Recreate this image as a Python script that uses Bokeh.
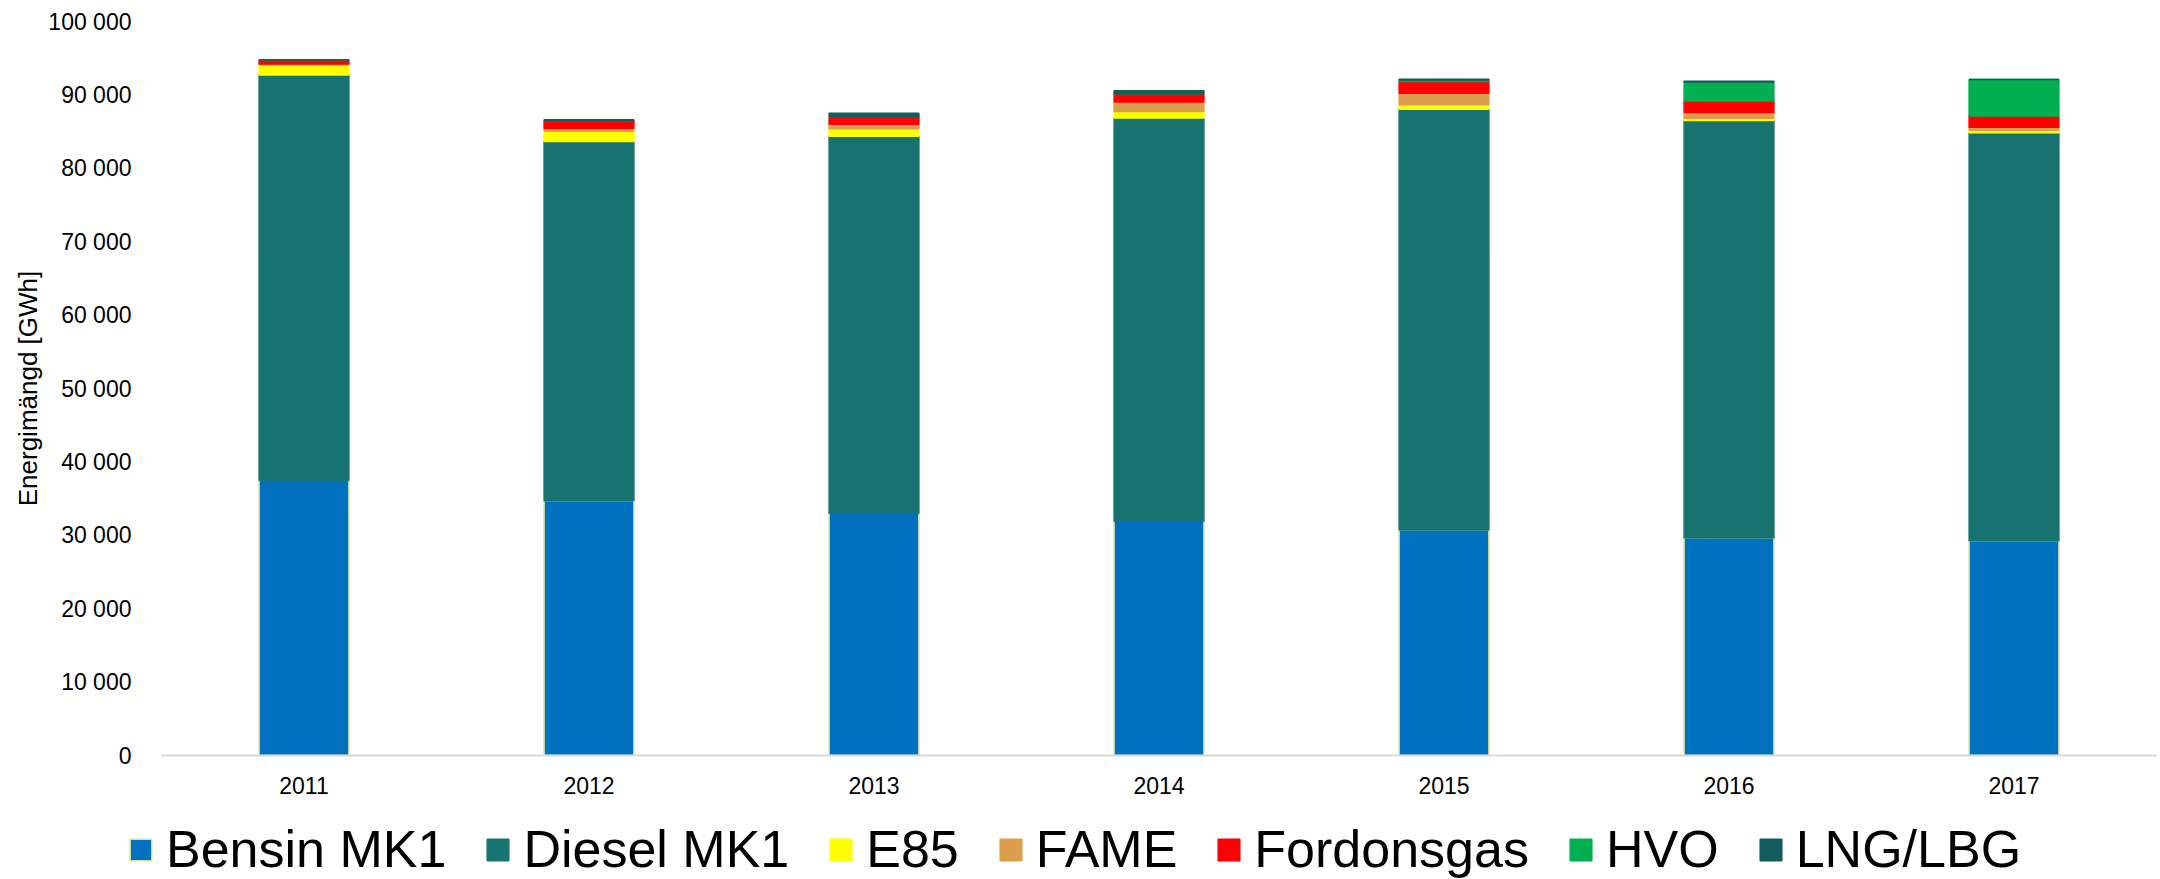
from bokeh.plotting import figure
from bokeh.layouts import column
from bokeh.models import Range1d, FactorRange, Legend, LegendItem, FixedTicker, ColumnDataSource
from bokeh.embed import file_html
from bokeh.resources import INLINE

years = ["2011", "2012", "2013", "2014", "2015", "2016", "2017"]
series = ["Bensin MK1", "Diesel MK1", "E85", "FAME", "Fordonsgas", "HVO", "LNG/LBG"]
bensin = [37500, 34700, 33000, 31900, 30750, 29650, 29250]
diesel = [55200, 48950, 51350, 54950, 57300, 56850, 55600]
e85 = [1400, 1400, 1050, 900, 600, 320, 320]
fame = [100, 400, 600, 1270, 1590, 770, 410]
fordonsgas = [600, 1050, 1100, 1130, 1590, 1590, 1540]
hvo = [0, 0, 0, 0, 200, 2590, 4990]
lng = [0, 100, 400, 400, 100, 100, 0]
colors = ["#0070C0", "#177370", "#FFFF00", "#DC9E4C", "#FF0000", "#00B050", "#115C5E"]
y_ticks = [0, 10000, 20000, 30000, 40000, 50000, 60000, 70000, 80000, 90000, 100000]
y_tick_labels = ["0", "10 000", "20 000", "30 000", "40 000", "50 000", "60 000",
                 "70 000", "80 000", "90 000", "100 000"]

FONT = "Liberation Sans"

data = dict(year=years)
for name, vals in zip(series, [bensin, diesel, e85, fame, fordonsgas, hvo, lng]):
    data[name] = vals
source = ColumnDataSource(data)

p = figure(x_range=FactorRange(factors=years), y_range=Range1d(0, 100000),
           width=2160, height=798, output_backend="svg", toolbar_location=None,
           min_border_left=161, min_border_right=4, min_border_top=21,
           min_border_bottom=43)
p.frame_align = False

line_colors = ["#d7e39a"] + colors[1:]
renderers = p.vbar_stack(series, x="year", width=0.315, source=source,
                         fill_color=colors, line_color=line_colors, line_width=1.5)

p.xgrid.visible = False
p.ygrid.visible = False
p.outline_line_color = None

p.xaxis.major_label_text_font_size = "23px"
p.xaxis.major_label_text_font = FONT
p.xaxis.major_label_text_color = "#000000"
p.xaxis.axis_line_color = "#d9d9d9"
p.xaxis.axis_line_width = 2
p.xaxis.major_tick_line_color = None
p.xaxis.minor_tick_line_color = None
p.xaxis.major_label_standoff = 15

p.yaxis.ticker = FixedTicker(ticks=y_ticks)
p.yaxis.major_label_overrides = {t: l for t, l in zip(y_ticks, y_tick_labels)}
p.yaxis.axis_line_color = None
p.yaxis.major_tick_line_color = None
p.yaxis.minor_tick_line_color = None
p.yaxis.major_label_text_font_size = "23px"
p.yaxis.major_label_text_font = FONT
p.yaxis.major_label_text_color = "#000000"
p.yaxis.major_label_standoff = 24
p.yaxis.axis_label = "Energimängd [GWh]"
p.yaxis.axis_label_text_font_size = "26px"
p.yaxis.axis_label_text_font = FONT
p.yaxis.axis_label_text_font_style = "normal"
p.yaxis.axis_label_text_color = "#000000"
p.yaxis.axis_label_standoff = 2

# Legend strip below the chart (its own hidden bars only supply the legend glyphs)
pl = figure(width=2160, height=81, x_range=p.x_range, y_range=Range1d(-250000, -150000),
            output_backend="svg", toolbar_location=None,
            x_axis_location=None, y_axis_location=None, min_border=0)
pl.frame_align = False
pl.xgrid.visible = False
pl.ygrid.visible = False
pl.outline_line_color = None
leg_renderers = pl.vbar_stack(series, x="year", width=0.315, source=source,
                              fill_color=colors, line_color=line_colors, line_width=1.5)
for r in leg_renderers:
    r.visible = False

items = [LegendItem(label=n, renderers=[r]) for n, r in zip(series, leg_renderers)]
legend = Legend(items=items, orientation="horizontal", location=(127, 0),
                label_text_font_size="52px", label_text_font=FONT,
                label_text_color="#000000",
                glyph_width=27, glyph_height=27, label_standoff=12, spacing=38,
                padding=0, margin=0, border_line_color=None, background_fill_alpha=0)
pl.add_layout(legend)

layout = column(p, pl)
open("out.html", "w").write(file_html(layout, INLINE))
